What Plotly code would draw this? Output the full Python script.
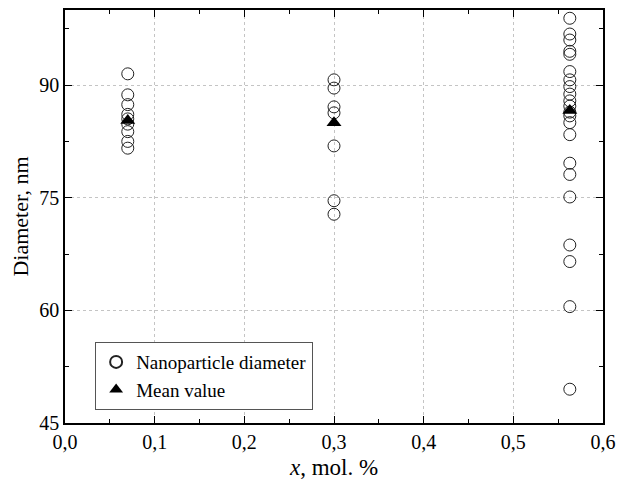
import plotly.graph_objects as go

# Data
x_groups = [0.07, 0.30, 0.563]
diam_007 = [91.5, 88.7, 87.4, 86.1, 85.5, 84.8, 83.8, 82.5, 81.6]
diam_030 = [90.7, 89.6, 87.1, 86.3, 81.9, 74.6, 72.8]
diam_056 = [98.9, 96.8, 96.0, 94.5, 94.1, 91.8, 90.7, 89.8, 88.8, 87.9, 87.2,
            86.4, 85.9, 85.0, 83.4, 79.6, 78.1, 75.1, 68.7, 66.5, 60.5, 49.5]
mean_values = [85.3, 85.0, 86.6]

x_tickvals = [0.0, 0.1, 0.2, 0.3, 0.4, 0.5, 0.6]
x_ticktext = ["0,0", "0,1", "0,2", "0,3", "0,4", "0,5", "0,6"]
y_tickvals = [45, 60, 75, 90]

xs, ys = [], []
for xv, arr in zip(x_groups, [diam_007, diam_030, diam_056]):
    xs += [xv] * len(arr)
    ys += arr

FONT = "Liberation Serif, Times New Roman, serif"

fig = go.Figure()
fig.add_trace(go.Scatter(
    x=xs, y=ys, mode="markers", name="Nanoparticle diameter",
    marker=dict(symbol="circle-open", size=12, color="#222222", line=dict(width=1))
))
fig.add_trace(go.Scatter(
    x=x_groups, y=mean_values, mode="markers", name="Mean value",
    marker=dict(symbol="triangle-up", size=13, color="black")
))

axis_common = dict(
    showline=True, linecolor="black", linewidth=1.5, mirror="ticks",
    ticks="inside", ticklen=7, tickwidth=1.2, tickcolor="black",
    showgrid=True, gridcolor="#c4c4c4", griddash="dot", gridwidth=1,
    zeroline=False, tickfont=dict(family=FONT, size=20, color="black"),
    automargin=False,
)

fig.update_xaxes(
    range=[0, 0.6], tickvals=x_tickvals, ticktext=x_ticktext,
    title=dict(text="<i>x</i>, mol. %", font=dict(family=FONT, size=23, color="black"), standoff=9),
    minor=dict(ticks="inside", dtick=0.05, tick0=0, ticklen=4, tickcolor="black", showgrid=False),
    **axis_common
)
fig.update_yaxes(
    range=[45, 100], tickvals=y_tickvals,
    title=dict(text="Diameter, nm", font=dict(family=FONT, size=22, color="black"), standoff=5),
    minor=dict(ticks="inside", tickvals=[52.5, 67.5, 82.5, 97.5], ticklen=4, tickcolor="black", showgrid=False),
    **axis_common
)

fig.update_layout(
    width=617, height=480,
    margin=dict(l=65, r=14, t=10, b=57),
    plot_bgcolor="white", paper_bgcolor="white",
    legend=dict(
        x=0.056, y=0.196, xanchor="left", yanchor="top",
        bgcolor="white", bordercolor="#555555", borderwidth=1,
        font=dict(family=FONT, size=19, color="black"),
        tracegroupgap=0, itemsizing="constant",
    ),
    showlegend=True,
)

fig.write_html("out.html")
